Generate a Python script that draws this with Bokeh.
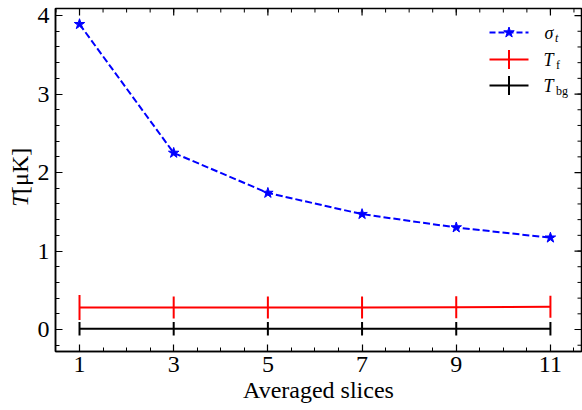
import math
from bokeh.plotting import figure
from bokeh.layouts import row
from bokeh.models import Range1d, FixedTicker, Label
from bokeh.core.properties import value
from bokeh.embed import file_html
from bokeh.resources import INLINE

# ---- data ----
slices = [1, 3, 5, 7, 9, 11]
sigma_t = [3.89, 2.25, 1.74, 1.47, 1.30, 1.17]
T_f = [0.28, 0.28, 0.28, 0.28, 0.285, 0.29]
T_f_err = [0.16, 0.14, 0.14, 0.14, 0.14, 0.14]
T_bg = [0.01, 0.01, 0.01, 0.01, 0.01, 0.01]
T_bg_err = [0.085, 0.085, 0.085, 0.085, 0.085, 0.085]
x_ticks = [1, 3, 5, 7, 9, 11]
y_ticks = [0, 1, 2, 3, 4]
x_minor = [0.5 + 0.5 * i for i in range(23)]
y_minor = [round(-0.2 + 0.2 * i, 2) for i in range(22)]

FONT = "Liberation Serif"
W, H = 582, 410
LW = 34                      # width of the strip holding the y-axis title
L, R, T, B = 55, 581, 8, 351  # frame edges in page pixels
X0, X1 = 0.49, 11.66
Y0, Y1 = -0.28, 4.09

# ---- strip with the y-axis title "T [μK]" (italic T) ----
lab = figure(width=LW, height=H, output_backend="svg", toolbar_location=None,
             x_range=Range1d(0, LW), y_range=Range1d(0, H),
             x_axis_type=None, y_axis_type=None,
             min_border_left=0, min_border_right=0, min_border_top=0, min_border_bottom=0)
lab.grid.visible = False
lab.outline_line_color = None
lab.background_fill_color = "white"
lab.border_fill_color = "white"
lab.text(x=[19.5], y=[H - 229], text=["T"], angle=math.pi / 2,
         text_font=value(FONT), text_font_style="italic", text_font_size="24px",
         text_color="black", text_align="center", text_baseline="middle")
lab.text(x=[19.5], y=[H - 194], text=["[μK]"], angle=math.pi / 2,
         text_font=value(FONT), text_font_style="normal", text_font_size="24px",
         text_color="black", text_align="center", text_baseline="middle")

# ---- main plot ----
p = figure(width=W - LW, height=H, output_backend="svg", toolbar_location=None,
           x_range=Range1d(X0, X1), y_range=Range1d(Y0, Y1),
           min_border_left=L - LW, min_border_right=W - R, min_border_top=T,
           min_border_bottom=H - B)
p.grid.visible = False
p.outline_line_color = "black"
p.outline_line_width = 1.5
p.background_fill_color = "white"
p.border_fill_color = "white"

xt = FixedTicker(ticks=x_ticks, minor_ticks=x_minor)
yt = FixedTicker(ticks=y_ticks, minor_ticks=y_minor)

for ax, tk in ((p.xaxis[0], xt), (p.yaxis[0], yt)):
    ax.ticker = tk
    ax.axis_line_color = "black"
    ax.axis_line_width = 1.5
    ax.major_tick_in = 7
    ax.major_tick_out = 0
    ax.minor_tick_in = 4
    ax.minor_tick_out = 0
    ax.major_tick_line_color = "black"
    ax.minor_tick_line_color = "black"
    ax.major_tick_line_width = 1.2
    ax.minor_tick_line_width = 1.0
    ax.major_label_text_font = FONT
    ax.major_label_text_font_size = "24px"
    ax.major_label_text_color = "black"
p.xaxis.major_label_standoff = 5
p.yaxis.major_label_standoff = 6

p.xaxis.axis_label = "Averaged slices"
p.xaxis.axis_label_text_font = FONT
p.xaxis.axis_label_text_font_size = "24px"
p.xaxis.axis_label_text_font_style = "normal"
p.xaxis.axis_label_text_color = "black"
p.xaxis.axis_label_standoff = 2


# ---- helpers: pixel -> data (for legend / tick placement only) ----
def dx(px):
    return X0 + (px - L) / (R - L) * (X1 - X0)


def dy(py):
    return Y1 - (py - T) / (B - T) * (Y1 - Y0)


ppx = (X1 - X0) / (R - L)   # data units per pixel (x)
ppy = (Y1 - Y0) / (B - T)   # data units per pixel (y)

# ---- mirrored ticks on top and right edges ----
p.segment(x0=x_ticks, y0=[Y1] * len(x_ticks), x1=x_ticks, y1=[Y1 - 7 * ppy] * len(x_ticks),
          line_color="black", line_width=1.2)
p.segment(x0=x_minor, y0=[Y1] * len(x_minor), x1=x_minor, y1=[Y1 - 4 * ppy] * len(x_minor),
          line_color="black", line_width=1.0)
p.segment(x0=[X1] * len(y_ticks), y0=y_ticks, x1=[X1 - 7 * ppx] * len(y_ticks), y1=y_ticks,
          line_color="black", line_width=1.2)
p.segment(x0=[X1] * len(y_minor), y0=y_minor, x1=[X1 - 4 * ppx] * len(y_minor), y1=y_minor,
          line_color="black", line_width=1.0)

# ---- series ----
p.line(slices, sigma_t, line_color="blue", line_width=2, line_dash="7 3")
p.scatter(slices, sigma_t, marker="star", size=11, fill_color="blue", line_color="blue")

p.line(slices, T_f, line_color="red", line_width=2)
p.segment(x0=slices, y0=[v - e for v, e in zip(T_f, T_f_err)],
          x1=slices, y1=[v + e for v, e in zip(T_f, T_f_err)],
          line_color="red", line_width=2)

p.line(slices, T_bg, line_color="black", line_width=2)
p.segment(x0=slices, y0=[v - e for v, e in zip(T_bg, T_bg_err)],
          x1=slices, y1=[v + e for v, e in zip(T_bg, T_bg_err)],
          line_color="black", line_width=2)

# ---- legend (drawn manually) ----
lx0, lx1, lxm = 489, 528, 508.5
rows = [32, 59, 85]
p.line([dx(lx0), dx(lx1)], [dy(rows[0])] * 2, line_color="blue", line_width=2, line_dash="6 3")
p.scatter([dx(lxm)], [dy(rows[0])], marker="star", size=11, fill_color="blue", line_color="blue")
p.line([dx(lx0), dx(lx1)], [dy(rows[1])] * 2, line_color="red", line_width=2)
p.line([dx(lxm)] * 2, [dy(rows[1] - 9.5), dy(rows[1] + 9.5)], line_color="red", line_width=2)
p.line([dx(lx0), dx(lx1)], [dy(rows[2])] * 2, line_color="black", line_width=2)
p.line([dx(lxm)] * 2, [dy(rows[2] - 9.5), dy(rows[2] + 9.5)], line_color="black", line_width=2)

leg_main = [("σ", "italic", 544), ("T", "italic", 543), ("T", "italic", 543)]
leg_sub = [("t", "italic", 554.5), ("f", "normal", 555.5), ("bg", "normal", 555.5)]
for (txt, st, px), py in zip(leg_main, rows):
    p.add_layout(Label(x=dx(px), y=dy(py), text=txt, text_font=FONT,
                       text_font_style=st, text_font_size="18px", text_color="black",
                       text_align="left", text_baseline="middle"))
for (txt, st, px), py in zip(leg_sub, rows):
    p.add_layout(Label(x=dx(px), y=dy(py + 5), text=txt, text_font=FONT,
                       text_font_style=st, text_font_size="12px", text_color="black",
                       text_align="left", text_baseline="middle"))

layout = row(lab, p, spacing=0)
open("out.html", "w").write(file_html(layout, INLINE))
